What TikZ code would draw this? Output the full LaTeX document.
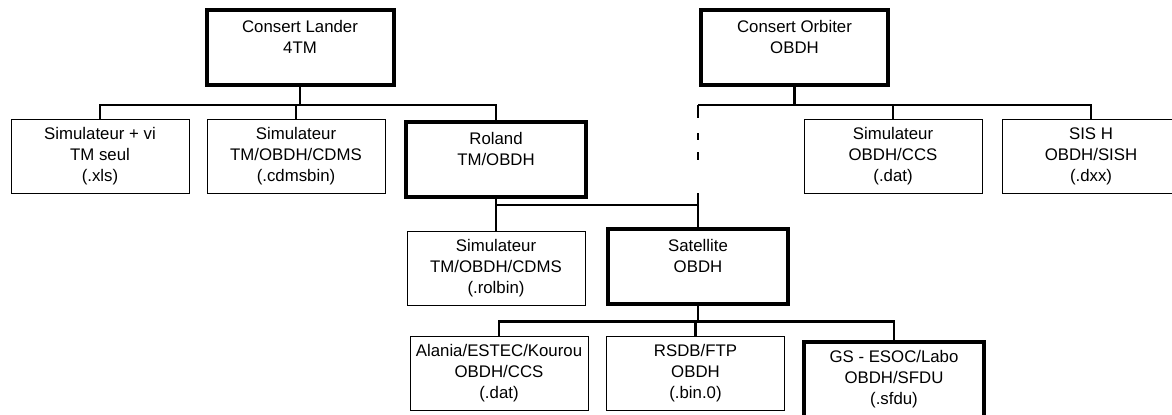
\documentclass[tikz,border=0pt]{standalone}
\usepackage{fontspec}
\setmainfont{Liberation Sans}
\tikzset{
	box/.style={draw,line width=0.5pt,minimum width=89pt,minimum height=37pt,inner sep=0pt,align=center,font=\fontsize{8.4}{10.5}\selectfont},
	keybox/.style={box,line width=2pt,minimum width=90pt,minimum height=37.5pt},
	topbox/.style={keybox,minimum width=93.5pt},
	link/.style={line width=1.4pt},
	dashlink/.style={link,dash pattern=on 6.5pt off 7.5pt on 3.5pt off 6pt on 4pt off 16.5pt on 30pt off 1pt}
}
\begin{document}
\begin{tikzpicture}[x=0.5pt,y=-0.5pt]
		\useasboundingbox (0,0) rectangle (1172,414);
		\clip (0,0) rectangle (1172,414);
		\node[topbox] (lander) at (300,47.5) {Consert Lander\\4TM\\\phantom{X}};
		\node[topbox] (orbiter) at (794.5,47.5) {Consert Orbiter\\OBDH\\\phantom{X}};
		\node[box] (simxls) at (100,156.5) {Simulateur + vi\\TM seul\\(.xls)};
		\node[box] (simcdms) at (296,156) {Simulateur\\TM/OBDH/CDMS\\(.cdmsbin)};
		\node[keybox] (roland) at (496,159.5) {Roland\\TM/OBDH\\\phantom{X}};
		\node[box] (simccs) at (893,156) {Simulateur\\OBDH/CCS\\(.dat)};
		\node[box] (sish) at (1091,156) {SIS H\\OBDH/SISH\\(.dxx)};
		\node[box] (simrol) at (496,268.5) {Simulateur\\TM/OBDH/CDMS\\(.rolbin)};
		\node[keybox] (sat) at (698,266) {Satellite\\OBDH\\\phantom{X}};
		\node[box] (alania) at (499,373.5) {Alania/ESTEC/Kourou\\OBDH/CCS\\(.dat)};
		\node[box] (rsdb) at (695.5,373.5) {RSDB/FTP\\OBDH\\(.bin.0)};
		\node[keybox] (gs) at (894,379) {GS - ESOC/Labo\\OBDH/SFDU\\(.sfdu)};
		\draw[link] (lander.south) -- ++(0,18) -| (simxls.north);
		\draw[link] (lander.south) -- ++(0,18) -| (simcdms.north);
		\draw[link] (lander.south) -- ++(0,18) -| (roland.north);
		\draw[link] (orbiter.south) -- ++(0,18) coordinate (obus) -| (simccs.north);
		\draw[link] (obus) -| (sish.north);
		\draw[link] (obus) -- (obus -| sat.north);
		\draw[dashlink] (obus -| sat.north) -- (sat.north);
		\draw[link] (roland.south) -- (simrol.north);
		\draw[link] (roland.south) -- ++(0,6) -| (sat.north);
		\draw[link] (sat.south) -- ++(0,16) -| (alania.north);
		\draw[link] (sat.south) -- ++(0,16) -| (rsdb.north);
		\draw[link] (sat.south) -- ++(0,16) -| (gs.north);
	\end{tikzpicture}
\end{document}
